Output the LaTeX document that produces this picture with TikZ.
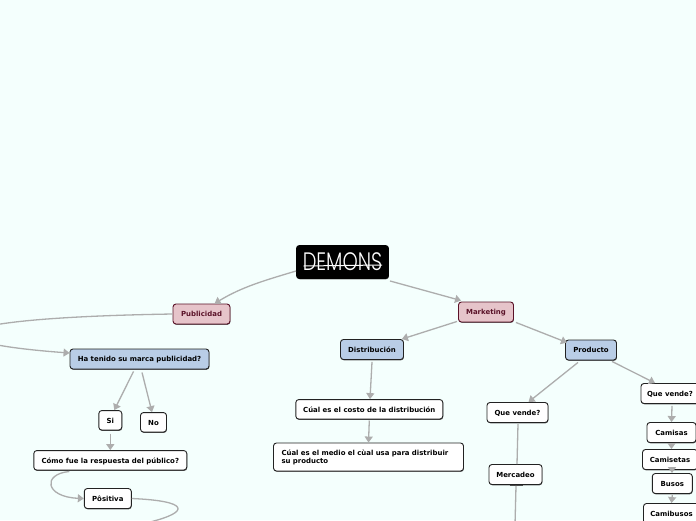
\documentclass[tikz,border=0pt]{standalone}
\usepackage{fontspec}
\setmainfont{DejaVu Sans}
\newfontfamily\logofont{Poppins Light}
\usetikzlibrary{arrows.meta,shadows}
\definecolor{bgc}{HTML}{F4FFFD}
\definecolor{linec}{HTML}{ADADAD}
\definecolor{pinkc}{HTML}{E6C4CA}
\definecolor{marc}{HTML}{5A1228}
\definecolor{bluec}{HTML}{B9CDE6}
\definecolor{edgec}{HTML}{222222}
\tikzset{
  box/.style={draw=edgec,line width=0.9pt,rounded corners=3pt,fill=white,inner sep=0pt,
    font=\bfseries\fontsize{6.95}{8}\selectfont,text=black,text height=5.4pt,text depth=0pt,
    copy shadow={shadow xshift=0.4pt,shadow yshift=-0.8pt,draw=none,fill=black!65}},
  pinkbox/.style={box,fill=pinkc,draw=marc,text=marc},
  bluebox/.style={box,fill=bluec},
  link/.style={draw=linec,line width=1.3pt},
  arrow/.style={link,-{Triangle[length=6pt,width=8pt,fill=linec]}},
}
\begin{document}
\begin{tikzpicture}[x=1pt,y=-1pt]
\useasboundingbox (0,0) rectangle (696,520);
\clip (0,0) rectangle (696,520);
\fill[bgc] (0,0) rectangle (696,520);

\node[box,draw=black,fill=black,text=white,minimum width=92pt,minimum height=33pt,text height=,text depth=,
      font=\logofont\fontsize{19.4}{22}\selectfont] (demons) at (342.5,262) {\scalebox{1}[1.3]{DEMONS}};
\coordinate (strikeA) at (303.5,266);
\coordinate (strikeB) at (382,265);
\draw[white,line width=1pt] (strikeA) -- (strikeB);

\node[pinkbox,minimum width=55pt,minimum height=20pt] (marketing) at (486,312) {Marketing};
\node[pinkbox,minimum width=57pt,minimum height=20pt] (publicidad) at (201.5,314) {Publicidad};
\node[bluebox,minimum width=63pt,minimum height=20pt] (distribucion) at (372,349.5) {Distribución};
\node[bluebox,minimum width=51pt,minimum height=20pt] (producto) at (591,350) {Producto};
\node[bluebox,minimum width=139pt,minimum height=20pt] (tenido) at (139.5,359) {Ha tenido su marca publicidad?};
\node[box,minimum width=23pt,minimum height=19.5pt] (si) at (110.3,420.3) {Si};
\node[box,minimum width=26pt,minimum height=19.5pt] (no) at (153.5,422.3) {No};
\node[box,minimum width=153pt,minimum height=19.5pt] (como) at (110.3,460.3) {Cómo fue la respuesta del público?};
\node[box,minimum width=47pt,minimum height=20pt] (positiva) at (107.8,498.5) {Pôsitiva};
\node[box,minimum width=147pt,minimum height=19.5pt] (costo) at (369.3,409.3) {Cúal es el costo de la distribución};
\node[box,minimum width=190pt,minimum height=28pt,align=left,text width=174pt,text height=,text depth=] (medio) at (368.5,457) {Cúal es el medio el cùal usa para distribuir\\su producto};
\node[box,minimum width=61pt,minimum height=20pt] (quemid) at (517.5,412.5) {Que vende?};
\node[box,minimum width=53pt,minimum height=20pt] (mercadeo) at (515.5,474.5) {Mercadeo};
\coordinate (merout) at (515,525);
\node[box,minimum width=58pt,minimum height=20pt] (queright) at (670,393.5) {Que vende?};
\node[box,minimum width=49pt,minimum height=20pt] (camisas) at (671.5,432.5) {Camisas};
\node[box,minimum width=55pt,minimum height=20pt] (camisetas) at (670,459.5) {Camisetas};
\node[box,minimum width=40pt,minimum height=20pt] (busos) at (672.3,483.5) {Busos};
\node[box,minimum width=56pt,minimum height=20pt] (camibusos) at (671.5,513.5) {Camibusos};
\coordinate (posout) at (150,522);

\draw[arrow] ([yshift=-9pt]demons.west) .. controls +(-30,9) and +(28,-17) .. ([xshift=42pt]publicidad.north west);
\draw[arrow] ([xshift=1pt,yshift=-2pt]demons.south east) -- ([xshift=3pt,yshift=1pt]marketing.north west);
\draw[arrow] ([xshift=-1pt,yshift=1pt]marketing.south west) -- ([xshift=-2pt]distribucion.north east);
\draw[arrow] ([xshift=2pt]marketing.south east) -- ([xshift=2pt,yshift=-3pt]producto.north west);
\draw[arrow] ([yshift=-2pt]distribucion.south) -- ([xshift=0.7pt]costo.north);
\draw[arrow] ([yshift=-1pt]costo.south) -- (medio.north);
\draw[arrow] ([xshift=-13pt,yshift=-2pt]producto.south) -- ([xshift=11pt]quemid.north);
\draw[arrow] ([xshift=21pt,yshift=-1pt]producto.south) -- ([xshift=-15pt]queright.north);
\draw[link] ([xshift=0.5pt,yshift=-1pt]quemid.south) -- ([xshift=1.5pt]mercadeo.north);
\draw[black!70,line width=1.3pt] ([xshift=-6pt,yshift=-0.8pt]mercadeo.south) -- ([xshift=7pt,yshift=-0.8pt]mercadeo.south);
\draw[link] ([xshift=0.5pt,yshift=-1pt]mercadeo.south) -- (merout);
\draw[arrow] ([xshift=2pt,yshift=-2pt]queright.south) -- (camisas.north);
\draw[arrow] ([yshift=-1pt]camisas.south) -- ([xshift=1.5pt]camisetas.north);
\draw[arrow] ([xshift=2pt,yshift=-1pt]camisetas.south) -- ([xshift=-0.3pt]busos.north);
\draw[arrow] ([yshift=-1pt]busos.south) -- (camibusos.north);
\draw[arrow] (publicidad.west) .. controls (-75,318) and (-75,342.5) .. ([yshift=6pt]tenido.west);
\draw[arrow] ([xshift=-6pt,yshift=-2pt]tenido.south) -- ([xshift=4pt]si.north);
\draw[arrow] ([xshift=2.5pt,yshift=-3pt]tenido.south) -- ([xshift=-1.5pt]no.north);
\draw[arrow] ([yshift=-3pt]si.south) -- (si.south |- como.north);
\draw[arrow] ([xshift=-41pt,yshift=-1pt]como.south) .. controls (42,474) and (45,497) .. (positiva.west);
\draw[link] (positiva.east) .. controls (190,501) and (190,512) .. (posout);
\end{tikzpicture}
\end{document}
